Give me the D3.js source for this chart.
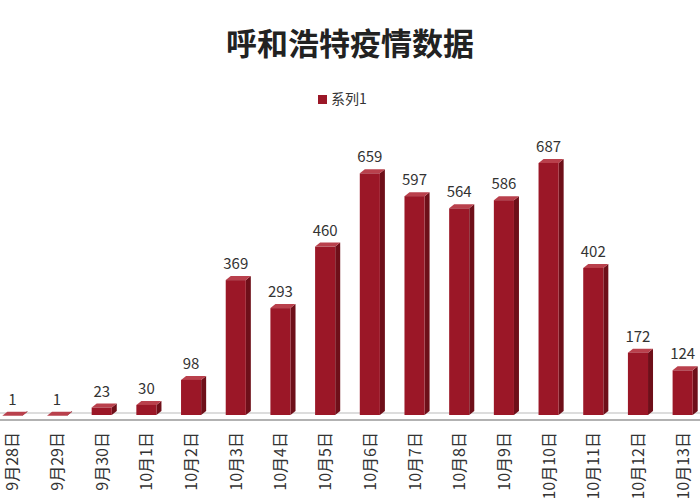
<!DOCTYPE html><html><head><meta charset="utf-8"><script src="https://cdn.jsdelivr.net/npm/d3@7"></script>
<style>body{margin:0;background:#fff}</style></head><body><svg id="c" width="700" height="500"></svg>
<script>
const categories=["9月28日","9月29日","9月30日","10月1日","10月2日","10月3日","10月4日","10月5日","10月6日","10月7日","10月8日","10月9日","10月10日","10月11日","10月12日","10月13日"];
const values=[1,1,23,30,98,369,293,460,659,597,564,586,687,402,172,124];
const svg=d3.select("#c");
const font="'Noto Sans CJK SC',sans-serif";
const x=d3.scaleBand().domain(categories).range([-10,705]).paddingInner(0.55).paddingOuter(0.275);
const y=d3.scaleLinear().domain([0,687]).range([413,160]);
svg.append("line").attr("x1",0).attr("x2",700).attr("y1",413).attr("y2",413).attr("stroke","#bbb");
svg.append("line").attr("x1",0).attr("x2",700).attr("y1",420).attr("y2",420).attr("stroke","#999").attr("stroke-width",1.5);
const d=5;
const g=svg.append("g").selectAll("g").data(values).join("g");
g.append("path").attr("fill","#6e0f19").attr("d",(v,i)=>{const x0=x(categories[i])+x.bandwidth(),t=y(v)+3;return `M${x0},${t}L${x0+d},${t-4}L${x0+d},${411}L${x0},${415}Z`;});
g.append("path").attr("fill","#b9404c").attr("d",(v,i)=>{const x0=x(categories[i]),x1=x0+x.bandwidth(),t=y(v)+3;return `M${x0},${t}L${x0+d},${t-4}L${x1+d},${t-4}L${x1},${t}Z`;});
g.append("rect").attr("fill","#9b1727").attr("x",(v,i)=>x(categories[i])).attr("y",v=>y(v)+3).attr("width",x.bandwidth()).attr("height",v=>Math.max(0,415-y(v)-3));
g.append("text").attr("x",(v,i)=>x(categories[i])+x.bandwidth()/2).attr("y",v=>y(v)-8).attr("text-anchor","middle").attr("font-family",font).attr("font-size",15).attr("fill","#333").text(v=>v);
svg.append("g").selectAll("text").data(categories).join("text").attr("transform",(c)=>`translate(${x(c)+x.bandwidth()/2+6},432) rotate(-90)`).attr("text-anchor","end").attr("font-family",font).attr("font-size",16).attr("fill","#333").text(c=>c);
svg.append("text").attr("x",350).attr("y",55).attr("text-anchor","middle").attr("font-family",font).attr("font-size",31).attr("font-weight","bold").attr("fill","#222").text("呼和浩特疫情数据");
svg.append("rect").attr("x",318).attr("y",95).attr("width",9).attr("height",9).attr("fill","#9b1727");
svg.append("text").attr("x",331).attr("y",104).attr("font-family",font).attr("font-size",14).attr("fill","#333").text("系列1");
</script></body></html>
